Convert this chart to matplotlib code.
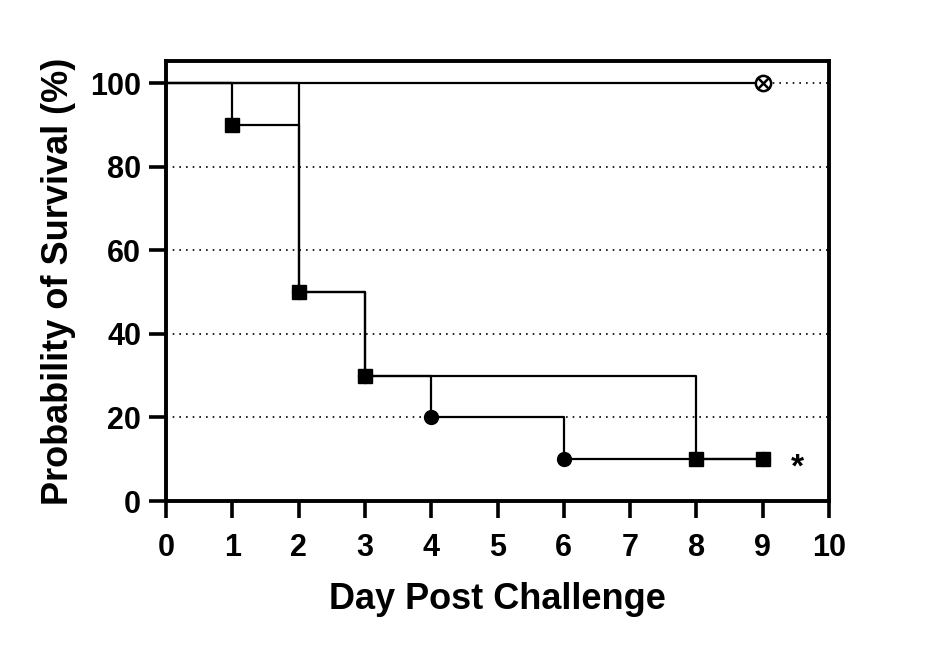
import matplotlib
matplotlib.use("Agg")
import matplotlib.pyplot as plt

plt.rcParams['font.family'] = ['Liberation Sans', 'DejaVu Sans']
plt.rcParams['font.weight'] = 'bold'

# Kaplan-Meier steps (day, survival % after that day)
days_top = [0, 9]
surv_top = [100, 100]

days_circle = [0, 2, 3, 4, 6, 9]
surv_circle = [100, 50, 30, 20, 10, 10]

days_square = [0, 1, 2, 3, 8, 9]
surv_square = [100, 90, 50, 30, 10, 10]

x_ticks = list(range(0, 11))
y_ticks = [0, 20, 40, 60, 80, 100]
grid_levels = [20, 40, 60, 80, 100]

fig = plt.figure(figsize=(9.29, 6.49), dpi=100)
ax = fig.add_axes([0.1787, 0.228, 0.7137, 0.678])

for g in grid_levels:
    ax.axhline(g, color='black', linestyle=(0, (1, 3)), linewidth=1.2, zorder=1)

lw = 1.6
ax.step(days_top, surv_top, where='post', color='black', lw=lw, zorder=3)
ax.step(days_circle, surv_circle, where='post', color='black', lw=lw, zorder=3)
ax.step(days_square, surv_square, where='post', color='black', lw=lw, zorder=4)

ax.plot(days_circle[1:], surv_circle[1:], 'o', color='black', ms=10, zorder=5)
ax.plot(days_square[1:], surv_square[1:], 's', color='black', ms=10, zorder=6)
ax.plot(days_top[1:], surv_top[1:], 'o', mfc='white', mec='black', mew=1.8, ms=11, zorder=6)
ax.plot(days_top[1:], surv_top[1:], 'x', color='black', mew=1.8, ms=7.5, zorder=7)

# significance mark
ax.text(9.52, 7.9, '*', fontsize=24, fontweight='bold',
        ha='center', va='center')

ax.set_xlim(0, 10)
ax.set_ylim(0, 105.3)
ax.set_xticks(x_ticks)
ax.set_yticks(y_ticks)
ax.tick_params(axis='both', direction='out', length=12, width=2.6,
               labelsize=22, pad=6)
ax.tick_params(axis='x', pad=11)
for s in ax.spines.values():
    s.set_linewidth(2.8)

ax.set_xlabel('Day Post Challenge', fontsize=26, fontweight='bold', labelpad=14)
ax.set_ylabel('Probability of Survival (%)', fontsize=26, fontweight='bold', labelpad=10)

fig.savefig('out.png', dpi=100)
